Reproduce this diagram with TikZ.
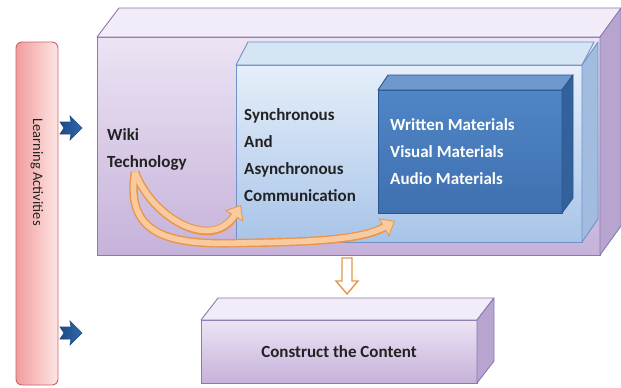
\documentclass[tikz,border=0pt]{standalone}
\usepackage{fontspec}
\setmainfont{Carlito}
\usetikzlibrary{arrows.meta}
\definecolor{oEdge}{HTML}{8A78B0}
\definecolor{oTop}{HTML}{ECE4F4}
\definecolor{oBot}{HTML}{C6B2DA}
\definecolor{oTopFace}{HTML}{F1ECF7}
\definecolor{oSide}{HTML}{B8A5CF}
\definecolor{iEdge}{HTML}{6F93C7}
\definecolor{iTop}{HTML}{E6EFFA}
\definecolor{iBot}{HTML}{A8C4E8}
\definecolor{iTopFace}{HTML}{D6E5F4}
\definecolor{iSide}{HTML}{A2BCE0}
\definecolor{dEdge}{HTML}{2B5591}
\definecolor{dTop}{HTML}{5086C6}
\definecolor{dBot}{HTML}{3F70B0}
\definecolor{dTopFace}{HTML}{6E98CE}
\definecolor{dSide}{HTML}{33619C}
\definecolor{lEdge}{HTML}{C86464}
\definecolor{lLeft}{HTML}{F39C9C}
\definecolor{lRight}{HTML}{FDE6E6}
\definecolor{orEdge}{HTML}{E8954A}
\definecolor{orFill}{HTML}{F8CA9E}
\definecolor{blA}{HTML}{2F69AE}
\definecolor{blB}{HTML}{1E4A86}
\definecolor{txt}{HTML}{222222}
\begin{document}
\begin{tikzpicture}[x=1pt,y=-1pt,
  face/.style={line width=0.9pt, line join=round},
  frontbox/.style={draw, line width=0.9pt, inner sep=0pt, outer sep=0pt},
  lbl/.style={font=\bfseries\fontsize{17}{27}\selectfont, align=left, anchor=north west, inner sep=0pt, text=txt},
  oband/.style={line width=8.5pt, draw=orEdge, -{Triangle[length=13pt,width=21pt,line width=0.8pt,fill=orFill]}},
  iband/.style={line width=5.7pt, draw=orFill, shorten >=11pt},
  bluearr/.pic={\draw[blB, line width=0.6pt, left color=blB, right color=blA]
     (-11,-6) -- (0,-6) -- (-1,-12) -- (11,0) -- (-1,12) -- (0,6) -- (-11,6) -- (-7,0) -- cycle;}
]
\useasboundingbox (0,0) rectangle (621,388);

% Learning activities bar
\node[draw=lEdge, line width=0.9pt, rounded corners=6pt, left color=lLeft, right color=lRight,
      minimum width=42pt, minimum height=343pt, inner sep=0pt] (learn) at (37,213.5) {};
\node[rotate=-90, font=\fontsize{14.5}{16}\selectfont, text=txt] (learntxt) at (37,172) {Learning Activities};

% blue arrows
\pic at (71,128) {bluearr};
\pic at (71,333) {bluearr};

% Outer box
\node[frontbox, draw=oEdge, top color=oTop, bottom color=oBot, minimum width=503pt, minimum height=218pt] (outerF) at (348.5,146) {};
\draw[face, draw=oEdge, fill=oTopFace] (outerF.north west) -- ++(22,-29) -- ++(503,0) -- (outerF.north east) -- cycle;
\draw[face, draw=oEdge, fill=oSide] (outerF.north east) -- ++(21,-29) -- ++(0,218) -- (outerF.south east) -- cycle;

% Inner box
\node[frontbox, draw=iEdge, top color=iTop, bottom color=iBot, minimum width=346pt, minimum height=177pt] (innerF) at (409,153.5) {};
\draw[face, draw=iEdge, fill=iTopFace] (innerF.north west) -- ++(12,-23) -- ++(346,0) -- (innerF.north east) -- cycle;
\draw[face, draw=iEdge, fill=iSide] (innerF.north east) -- ++(16,-23) -- ++(0,177) -- (innerF.south east) -- cycle;

% Dark box
\node[frontbox, draw=dEdge, top color=dTop, bottom color=dBot, minimum width=184pt, minimum height=123pt] (darkF) at (470,151.5) {};
\draw[face, draw=dEdge, fill=dTopFace] (darkF.north west) -- ++(10,-15) -- ++(185,0) -- (darkF.north east) -- cycle;
\draw[face, draw=dEdge, fill=dSide] (darkF.north east) -- ++(11,-15) -- ++(0,123) -- (darkF.south east) -- cycle;

% Construct box
\node[frontbox, draw=oEdge, top color=oTop, bottom color=oBot, minimum width=276pt, minimum height=63pt] (consF) at (339,351.5) {};
\draw[face, draw=oEdge, fill=oTopFace] (consF.north west) -- ++(17,-22) -- ++(276,0) -- (consF.north east) -- cycle;
\draw[face, draw=oEdge, fill=oSide] (consF.north east) -- ++(17,-22) -- ++(0,63) -- (consF.south east) -- cycle;

% Texts
\node[lbl] (wiki) at (107,128) {Wiki\\Technology};
\node[lbl] (sync) at (244,108) {Synchronous\\And\\Asynchronous\\Communication};
\node[lbl, text=white] (mat) at (390,118) {Written Materials\\Visual Materials\\Audio Materials};
\node[font=\bfseries\fontsize{17}{20}\selectfont, text=txt] (constxt) at (consF.center) {Construct the Content};

% curved orange arrows
\coordinate (w0) at (135,172);
\coordinate (t1) at (241,205);
\coordinate (t2) at (395,221);
\draw[oband] (w0) .. controls (124,238) and (175,245) .. (240,243) .. controls (310,242) and (362,240) .. (t2);
\draw[oband] (w0) .. controls (152,218) and (212,252) .. (t1);
\draw[iband] (w0) .. controls (124,238) and (175,245) .. (240,243) .. controls (310,242) and (362,240) .. (t2);
\draw[iband] (w0) .. controls (152,218) and (212,252) .. (t1);

% hollow down arrow
\draw[orEdge, line width=1.4pt, fill=white, line join=miter]
  (342,258) -- (352,258) -- (352,281) -- (358,281) -- (347,294) -- (336,281) -- (342,281) -- cycle;
\end{tikzpicture}
\end{document}
